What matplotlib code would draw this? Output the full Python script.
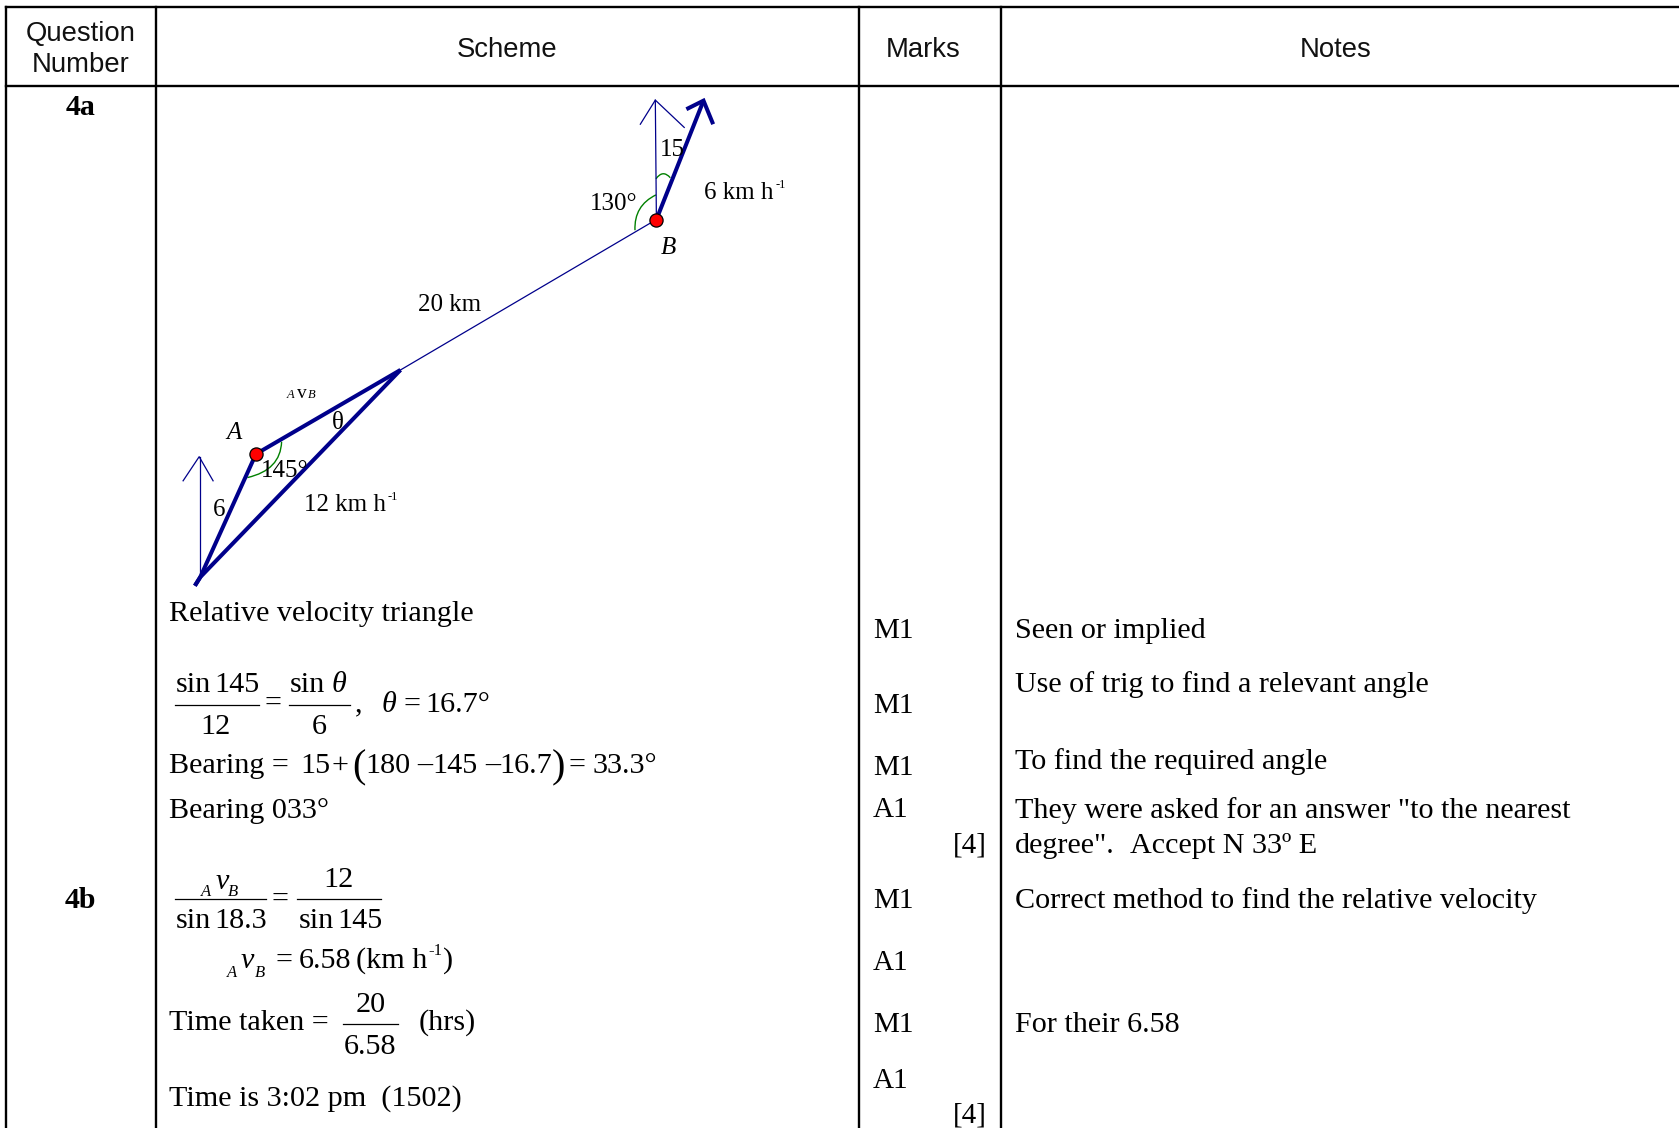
import matplotlib
matplotlib.use("Agg")
import matplotlib.pyplot as plt
from matplotlib.path import Path
from matplotlib.patches import PathPatch

SERIF = "Liberation Serif"
SANS = "Liberation Sans"
NAVY = "#00008B"
GREEN = "#008000"
W, H = 1568, 1053.4
BODY = 21.7

# table
col_lines = [6, 145.5, 802, 935]
row_lines = [6.5, 80]
headers = [(75, 38, "Question"), (75, 67, "Number"), (473.5, 53, "Scheme"), (862, 53, "Marks"), (1247, 53, "Notes")]
questions = [(75, 107, "4a"), (75, 848, "4b")]

marks = [(815, 596, "M1"), (815, 666, "M1"), (815, 724, "M1"), (815, 763, "A1"), (890, 796, "[4]"),
         (815, 848, "M1"), (815, 906, "A1"), (815, 964, "M1"), (815, 1016, "A1"), (890, 1048, "[4]")]
notes = [(947.5, 596, "Seen or implied"),
         (947.5, 646, "Use of trig to find a relevant angle"),
         (947.5, 718.5, "To find the required angle"),
         (947.5, 764, 'They were asked for an answer "to the nearest'),
         (947.5, 796.5, 'degree".'),
         (1055.5, 796.5, "Accept N 33º E"),
         (947.5, 848, "Correct method to find the relative velocity"),
         (947.5, 964, "For their 6.58")]

# scheme text: x, baseline, text, size, italic, align
scheme = [
    (158, 580, "Relative velocity triangle", BODY, False, "left"),
    (164, 646.5, "sin", BODY, False, "left"),
    (200, 646.5, "145", BODY, False, "left"),
    (201, 685.5, "12", BODY, False, "center"),
    (247, 664, "=", BODY, False, "left"),
    (271, 646.5, "sin", BODY, False, "left"),
    (310, 646.5, "θ", BODY, True, "left"),
    (298, 685.5, "6", BODY, False, "center"),
    (331, 664, ",", BODY, False, "left"),
    (356, 665, "θ", BODY, True, "left"),
    (377, 665, "=", BODY, False, "left"),
    (397, 665, "16.7°", BODY, False, "left"),
    (158, 722, "Bearing =", BODY, False, "left"),
    (280, 722, "15", BODY, False, "left"),
    (310, 722, "+", BODY, False, "left"),
    (341, 722, "180", BODY, False, "left"),
    (390, 722, "–", BODY, False, "left"),
    (404, 722, "145", BODY, False, "left"),
    (453, 722, "–", BODY, False, "left"),
    (466, 722, "16.7", BODY, False, "left"),
    (531, 722, "=", BODY, False, "left"),
    (553, 722, "33.3°", BODY, False, "left"),
    (329, 726, "(", 29, False, "left"),
    (515, 726, ")", 29, False, "left"),
    (158, 764, "Bearing 033°", BODY, False, "left"),
    (188, 837, "A", 12, True, "left"),
    (201, 830, "v", BODY, True, "left"),
    (213, 837, "B", 12, True, "left"),
    (164, 866.5, "sin", BODY, False, "left"),
    (200, 866.5, "18.3", BODY, False, "left"),
    (254, 846.5, "=", BODY, False, "left"),
    (316, 828, "12", BODY, False, "center"),
    (279, 866.5, "sin", BODY, False, "left"),
    (315, 866.5, "145", BODY, False, "left"),
    (212, 912, "A", 12, True, "left"),
    (225, 904, "v", BODY, True, "left"),
    (238, 912, "B", 12, True, "left"),
    (257, 904, "=", BODY, False, "left"),
    (279, 904, "6.58", BODY, False, "left"),
    (332, 904, "(km h", BODY, False, "left"),
    (400, 892, "-1", 12, False, "left"),
    (414, 904, ")", BODY, False, "left"),
    (158, 962, "Time taken =", BODY, False, "left"),
    (346, 945, "20", BODY, False, "center"),
    (346, 984, "6.58", BODY, False, "center"),
    (391, 962, "(hrs)", BODY, False, "left"),
    (158, 1033, "Time is 3:02 pm  (1502)", BODY, False, "left"),
]
fraction_bars = [(163, 242, 658), (270, 327, 658), (163, 248, 840), (277, 356, 840), (320, 372, 956)]

# diagram
diagram_text = [
    (616, 146, "15", 18, False), (551, 196, "130°", 18, False), (657, 186, "6 km h", 18, False),
    (724, 176, "-1", 9, False), (617, 237, "B", 18, True), (390, 290, "20 km", 18, False),
    (211, 410, "A", 18, True), (268, 372, "A", 9, True), (277, 372, "v", 14, False), (288, 372, "B", 9, True),
    (310, 401, "θ", 18, False), (244, 445, "145°", 18, False), (199, 482, "6", 18, False),
    (284, 477, "12 km h", 18, False), (362, 467, "-1", 9, False),
]
thin_lines = [
    ([613, 612], [205, 93.5]), ([598, 612, 639], [116, 93.5, 119]),
    ([613, 374], [205, 345.5]),
    ([187, 187], [539, 426.5]), ([171, 186, 199], [449, 426.5, 449]),
]
thick_lines = [
    ([613, 657], [205, 94]), ([641, 657, 666], [102, 94, 116]),
    ([374, 239], [345.5, 424]), ([239, 187, 182], [424, 539, 547]), ([374, 187, 182], [345.5, 539, 547]),
]
arcs = [
    ((612.6, 182), (592, 192), (593, 215)),
    ((612.6, 167), (619, 158), (626, 166)),
    ((263, 412.5), (262, 439), (231, 446)),
]
points_x = [613, 239]
points_y = [205, 424]

fig = plt.figure(figsize=(16.79, 11.28), dpi=100)
ax = fig.add_axes([0, 0, 1, 1])
ax.set_xlim(0, W)
ax.set_ylim(H, 0)
ax.axis("off")

for x in col_lines:
    ax.plot([x, x], [6.5, H], color="black", lw=1.7, solid_capstyle="projecting")
for y in row_lines:
    ax.plot([6, W], [y, y], color="black", lw=1.7, solid_capstyle="projecting")

for x, y, s in headers:
    ax.text(x, y, s, family=SANS, fontsize=19.8, ha="center", va="baseline", color="#111111")
for x, y, s in questions:
    ax.text(x, y, s, family=SERIF, fontsize=21.5, weight="bold", ha="center", va="baseline")
for x, y, s in marks:
    ax.text(x, y, s, family=SERIF, fontsize=21, ha="left", va="baseline")
for x, y, s in notes:
    ax.text(x, y, s, family=SERIF, fontsize=BODY, ha="left", va="baseline")
for x, y, s, fs, it, ha in scheme:
    ax.text(x, y, s, family=SERIF, fontsize=fs, style="italic" if it else "normal", ha=ha, va="baseline")
for x0, x1, y in fraction_bars:
    ax.plot([x0, x1], [y, y], color="black", lw=0.9)

for xs, ys in thin_lines:
    ax.plot(xs, ys, color=NAVY, lw=0.9)
for xs, ys in thick_lines:
    ax.plot(xs, ys, color=NAVY, lw=2.9, solid_joinstyle="miter", solid_capstyle="butt")
for p0, p1, p2 in arcs:
    ax.add_patch(PathPatch(Path([p0, p1, p2], [Path.MOVETO, Path.CURVE3, Path.CURVE3]),
                           fill=False, edgecolor=GREEN, lw=1.0))
ax.scatter(points_x, points_y, s=90, color="red", edgecolors="black", linewidths=0.9, zorder=5)
for x, y, s, fs, it in diagram_text:
    ax.text(x, y, s, family=SERIF, fontsize=fs, style="italic" if it else "normal",
            ha="left", va="baseline", zorder=6)

fig.savefig("out.png", dpi=100)
